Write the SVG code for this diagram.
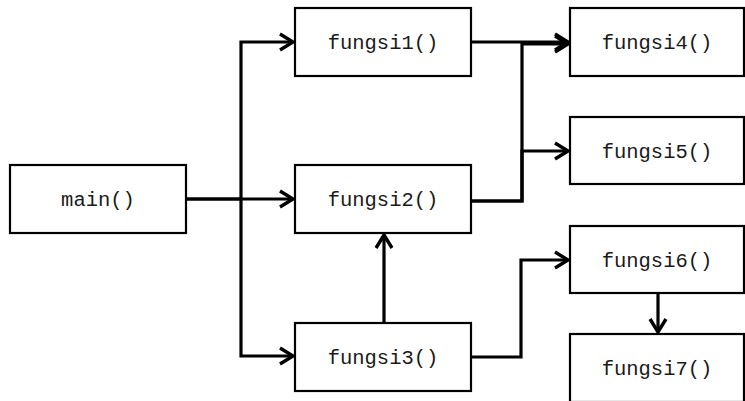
<svg xmlns="http://www.w3.org/2000/svg" width="745" height="401" viewBox="0 0 745 401">
  <defs>
    <marker id="arrow" markerUnits="userSpaceOnUse" markerWidth="24" markerHeight="24" refX="0" refY="0" viewBox="-18 -12 24 24" orient="auto" overflow="visible">
      <path d="M-13,-8 L0,0 L-13,8" fill="none" stroke="#000" stroke-width="3.4" stroke-linejoin="miter" stroke-linecap="butt"/>
    </marker>
    <style>
      .box { fill: #fff; stroke: #000; stroke-width: 2.2; }
      .lbl { font-family: "Liberation Mono", "Courier New", monospace; font-size: 20.5px; fill: #1a1a1a; text-anchor: middle; }
      .wire { fill: none; stroke: #000; stroke-width: 3.2; stroke-linejoin: miter; }
    </style>
  </defs>
  <rect width="745" height="401" fill="#fff"/>

  <!-- call lines -->
  <g id="connectors">
    <path class="wire" d="M186,199 H241 V42 H293" marker-end="url(#arrow)"/>
    <path class="wire" d="M186,199 H293" marker-end="url(#arrow)"/>
    <path class="wire" d="M241,199 V356 H293" marker-end="url(#arrow)"/>
    <path class="wire" d="M471,42 H568" marker-end="url(#arrow)"/>
    <path class="wire" d="M471,201 H522 V44 H568" marker-end="url(#arrow)"/>
    <path class="wire" d="M471,201 H522 V151 H568" marker-end="url(#arrow)"/>
    <path class="wire" d="M384,323 V235" marker-end="url(#arrow)"/>
    <path class="wire" d="M471,357 H521 V260 H568" marker-end="url(#arrow)"/>
    <path class="wire" d="M658,293 V332" marker-end="url(#arrow)"/>
  </g>

  <g id="main">
    <rect class="box" x="10" y="165" width="176" height="68"/>
    <text class="lbl" x="98" y="206">main()</text>
  </g>
  <g id="fungsi1">
    <rect class="box" x="295" y="8" width="176" height="68"/>
    <text class="lbl" x="383" y="49">fungsi1()</text>
  </g>
  <g id="fungsi2">
    <rect class="box" x="295" y="165" width="176" height="68"/>
    <text class="lbl" x="383" y="206">fungsi2()</text>
  </g>
  <g id="fungsi3">
    <rect class="box" x="295" y="323" width="176" height="68"/>
    <text class="lbl" x="383" y="364">fungsi3()</text>
  </g>
  <g id="fungsi4">
    <rect class="box" x="570" y="8" width="174" height="68"/>
    <text class="lbl" x="657" y="49">fungsi4()</text>
  </g>
  <g id="fungsi5">
    <rect class="box" x="570" y="117" width="174" height="67"/>
    <text class="lbl" x="657" y="158">fungsi5()</text>
  </g>
  <g id="fungsi6">
    <rect class="box" x="570" y="226" width="174" height="67"/>
    <text class="lbl" x="657" y="267">fungsi6()</text>
  </g>
  <g id="fungsi7">
    <rect class="box" x="570" y="334" width="174" height="68"/>
    <text class="lbl" x="657" y="375">fungsi7()</text>
  </g>
</svg>
